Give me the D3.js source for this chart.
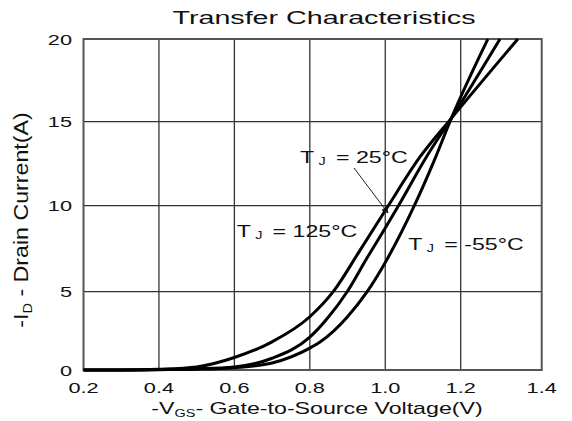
<!DOCTYPE html>
<html>
<head>
<meta charset="utf-8">
<script src="https://cdn.jsdelivr.net/npm/d3@7"></script>
<style>
  body { margin: 0; background: #fff; }
  text { font-family: 'Liberation Sans', Arial, sans-serif; fill: #111; }
</style>
</head>
<body>
<svg width="572" height="421"></svg>
<script>
// tick values
const xTicks = [0.2, 0.4, 0.6, 0.8, 1.0, 1.2, 1.4];
const yTicks = [0, 5, 10, 15, 20];

// curves: -VGS (V) and -ID (A)
const vgs125 = [0.2, 0.3, 0.4, 0.5, 0.6, 0.7, 0.8, 0.862, 0.93, 1.008, 1.092, 1.175, 1.341];
const id125 = [0, 0, 0.05, 0.2, 0.8, 1.8, 3.4, 5, 7.3, 10, 12.9, 15.2, 20];

const vgs25 = [0.2, 0.3, 0.4, 0.5, 0.6, 0.7, 0.8, 0.85, 0.899, 0.95, 1.0, 1.035, 1.109, 1.175, 1.297];
const id25 = [0, 0, 0.03, 0.08, 0.2, 0.75, 2.1, 3.4, 5, 6.9, 8.7, 10, 12.9, 15.2, 20];

const vgsM55 = [0.2, 0.3, 0.4, 0.5, 0.6, 0.7, 0.8, 0.828, 0.9, 0.952, 1.0, 1.077, 1.13, 1.175, 1.267];
const idM55 = [0, 0, 0.02, 0.05, 0.15, 0.45, 1.4, 1.8, 3.4, 5, 6.7, 10, 12.7, 15.2, 20];

const svg = d3.select('svg');

// the source image is stretched sideways, so text gets a horizontal scale too
const stretch = 1.45;

// the last column of the grid is a bit wider than the others in the source
const x = d3.scaleLinear().domain([0.2, 1.2, 1.4]).range([83.5, 460.7, 541.7]);
const y = d3.scaleLinear().domain([0, 5, 10, 15, 20]).range([370, 291.7, 205.7, 121.7, 39]);

// grid
const grid = svg.append('g');
grid.selectAll('line.v')
  .data(xTicks.slice(1, -1))
  .enter()
  .append('line')
  .attr('x1', d => x(d))
  .attr('x2', d => x(d))
  .attr('y1', y(0))
  .attr('y2', y(20))
  .attr('stroke', '#333')
  .attr('stroke-width', 1.3);

grid.selectAll('line.h')
  .data(yTicks.slice(1, -1))
  .enter()
  .append('line')
  .attr('x1', x(0.2))
  .attr('x2', x(1.4))
  .attr('y1', d => y(d))
  .attr('y2', d => y(d))
  .attr('stroke', '#333')
  .attr('stroke-width', 1.3);

// frame
svg.append('rect')
  .attr('x', x(0.2))
  .attr('y', y(20))
  .attr('width', x(1.4) - x(0.2))
  .attr('height', y(0) - y(20))
  .attr('fill', 'none')
  .attr('stroke', '#555')
  .attr('stroke-width', 2);

// curves
const line = d3.line()
  .x(d => x(d[0]))
  .y(d => y(d[1]))
  .curve(d3.curveMonotoneX);

const series = [
  d3.zip(vgs125, id125),
  d3.zip(vgs25, id25),
  d3.zip(vgsM55, idM55),
];

svg.append('g')
  .selectAll('path')
  .data(series)
  .enter()
  .append('path')
  .attr('d', line)
  .attr('fill', 'none')
  .attr('stroke', '#000')
  .attr('stroke-width', 3)
  .attr('stroke-linejoin', 'round');

// text helper: stretched like the source
function label(px, py, anchor, size, html, sx = stretch, sy = 1, rotate = false) {
  const t = rotate
    ? `translate(${px} ${py}) rotate(-90) scale(${sx} ${sy})`
    : `translate(${px} ${py}) scale(${sx} ${sy})`;
  return svg.append('text')
    .attr('transform', t)
    .attr('text-anchor', anchor)
    .attr('font-size', size)
    .html(html);
}

// tick labels
xTicks.forEach(d => {
  label(x(d), 393, 'middle', 15, d.toFixed(1));
});
yTicks.forEach(d => {
  label(72, y(d) + 5.5, 'end', 15, d);
});

// titles
label(324, 24, 'middle', 18.5, 'Transfer Characteristics', 1.55);
label(317, 414, 'middle', 16,
  '-V<tspan font-size="10" dy="3">GS</tspan><tspan dy="-3">- Gate-to-Source Voltage(V)</tspan>');
label(28, 220, 'middle', 16,
  '-I<tspan font-size="10" dy="3">D</tspan><tspan dy="-3"> - Drain Current(A)</tspan>', 1.45, 1.25, true);

// temperature annotations
const tj = temp =>
  `T<tspan font-size="10" dx="3" dy="2">J</tspan><tspan dx="7" dy="-2">= ${temp}°C</tspan>`;
label(300, 163, 'start', 16, tj('25'));
label(236.7, 237, 'start', 16, tj('125'));
label(408.3, 250, 'start', 16, tj('-55'));

// pointer to the 25°C curve
svg.append('defs')
  .append('marker')
  .attr('id', 'head')
  .attr('viewBox', '0 0 10 10')
  .attr('refX', 9)
  .attr('refY', 5)
  .attr('markerWidth', 7)
  .attr('markerHeight', 7)
  .attr('orient', 'auto')
  .append('path')
  .attr('d', 'M0 0 L10 5 L0 10 Z')
  .attr('fill', '#111');

svg.append('line')
  .attr('x1', 354)
  .attr('y1', 168)
  .attr('x2', 388)
  .attr('y2', 213)
  .attr('stroke', '#222')
  .attr('stroke-width', 1)
  .attr('marker-end', 'url(#head)');
</script>
</body>
</html>
